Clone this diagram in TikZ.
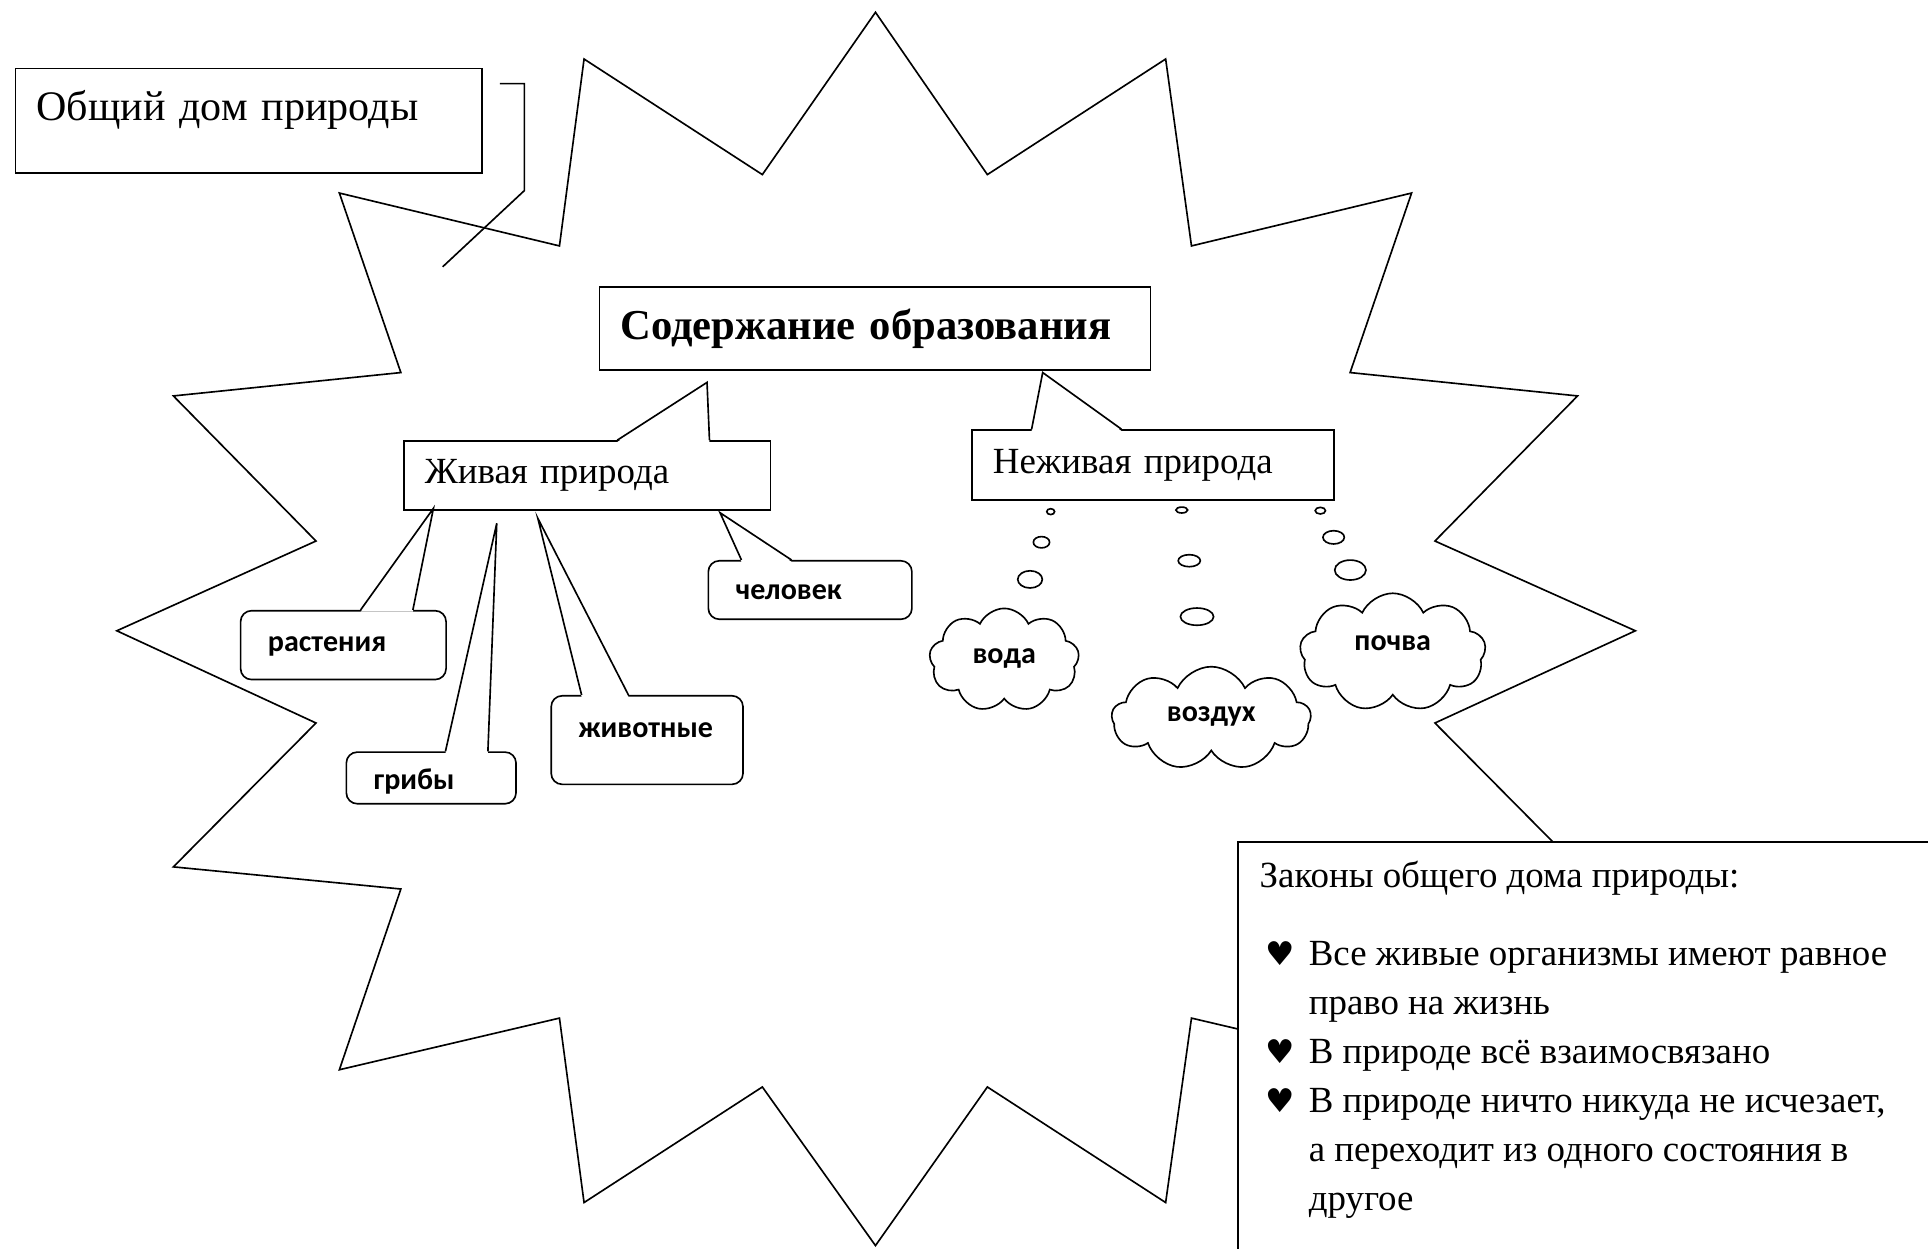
\documentclass[tikz,border=0pt]{standalone}
\usepackage{fontspec}
\setmainfont{Liberation Serif}
\newfontfamily\calib{Carlito}
\newfontfamily\dejavu{DejaVu Sans}
\usetikzlibrary{shapes.symbols,calc}

\newcommand{\lawheart}{\makebox[18pt][l]{\hspace{2pt}{\dejavu\fontsize{12}{18}\selectfont ♥}}}
% tail of a callout: node, left and right offset on its top edge, tip
\newcommand{\calltail}[4]{%
  \fill[white] ([shift={(#2,1.5)}]#1.north west) -- (#4) -- ([shift={(#3,1.5)}]#1.north west) -- cycle;
  \draw[tail] ([shift={(#2,0)}]#1.north west) -- (#4) -- ([shift={(#3,0)}]#1.north west);
}

\tikzset{
  outline/.style={line width=0.6pt},
  box/.style={draw, outline, fill=white, anchor=north west, align=left, inner xsep=7.6pt, inner ysep=0pt},
  tag/.style={draw, outline, fill=white, rounded corners=4pt, anchor=north west, align=left,
    inner xsep=10pt, inner ysep=0pt, font=\calib\bfseries\fontsize{11}{13}\selectfont,
    text height=7pt, text depth=2pt},
  thought/.style={cloud, cloud puffs=9, cloud puff arc=130, cloud ignores aspect, draw, outline, fill=white,
    inner sep=0pt, font=\calib\bfseries\fontsize{11}{13}\selectfont},
  tail/.style={outline},
}

\begin{document}
\begin{tikzpicture}[x=0.45pt, y=-0.45pt]
    \clip (0,0) rectangle (1568,1015);

    % Draw star
    \draw[outline] (712,10) -- (803,142) -- (948,48) -- (969,200) -- (1148,157) -- (1098,303)
        -- (1283,322) -- (1167,440) -- (1330,513) -- (1167,588) -- (1283,705) -- (1098,723)
        -- (1148,870) -- (969,828) -- (948,978) -- (803,884) -- (712,1013) -- (620,884)
        -- (475,978) -- (455,828) -- (276,870) -- (326,723) -- (141,705) -- (257,588)
        -- (95,513) -- (257,440) -- (141,322) -- (326,303) -- (276,157) -- (455,200)
        -- (475,48) -- (620,142) -- cycle;

    % Boxes
    \node[box, text width=155.4pt, minimum height=38.3pt, text height=11pt, text depth=11pt,
        font=\fontsize{15.4}{19}\selectfont] (common) at (12,55) {Общий дом природы};
    \node[box, text width=186.4pt, minimum height=30.15pt,
        font=\bfseries\fontsize{15.6}{19}\selectfont] (content) at (487,233) {Содержание образования};
    \node[box, text width=118.9pt, minimum height=25.2pt,
        font=\fontsize{13.5}{16}\selectfont] (alive) at (328,358) {Живая природа};
    \node[box, text width=117.1pt, minimum height=25.65pt,
        font=\fontsize{13.5}{16}\selectfont] (lifeless) at (790,349) {Неживая природа};

    % Callout tails
    \coordinate (commontip) at (360,217);
    \draw[tail] ([shift={(14,13)}]common.north east) -- ++(20,0) -- ++(0,87) -- (commontip);
    \coordinate (alivetip) at (575,311);
    \calltail{alive}{174}{249}{alivetip}
    \coordinate (lifelesstip) at (848,303);
    \calltail{lifeless}{49}{122}{lifelesstip}

    % Living nature
    \node[tag, text width=55.2pt, minimum height=25.2pt] (plants) at (195,496) {растения};
    \node[tag, text width=42.1pt, minimum height=18.9pt, text height=10.6pt] (fungi) at (281,611) {грибы};
    \node[tag, text width=50.2pt, minimum height=32.4pt, text depth=8.8pt] (animals) at (447.6,565.2) {животные};
    \node[tag, text width=54.5pt, minimum height=21.4pt, text height=9pt] (human) at (575.4,455.4) {человек};
    \coordinate (plantstip) at (352.5,413.4);
    \calltail{plants}{98.3}{140.8}{plantstip}
    \coordinate (fungitip) at (404,425.6);
    \calltail{fungi}{81.3}{115.8}{fungitip}
    \coordinate (animalstip) at (437.4,421.5);
    \calltail{animals}{25.4}{63.5}{animalstip}
    \coordinate (humantip) at (585.6,417);
    \calltail{human}{27.6}{68.3}{humantip}

    % Lifeless nature
    \foreach \bx/\by/\rx/\ry in {854.5/416.1/3.2/2.4, 847/441/6.6/4.6, 837.7/471.2/10/7,
        961.1/414.8/4.8/2.4, 967.2/456/9/4.9, 973.5/501.5/13.5/7,
        1073.8/415.3/4.2/2.7, 1084.6/437/8.7/5.4, 1098.2/463.6/12.7/8.1}
        \draw[outline] (\bx,\by) ellipse [x radius=\rx, y radius=\ry];
    \node[thought, minimum width=54.9pt, minimum height=37.8pt, text depth=3pt] (water) at (816.7,536.8) {вода};
    \node[thought, minimum width=72.9pt, minimum height=37.8pt, text depth=3pt] (air) at (985.1,584.2) {воздух};
    \node[thought, minimum width=68.1pt, minimum height=43.3pt, text depth=7pt] (soil) at (1132.7,530.6) {почва};

    % Laws
    \node[draw, outline, fill=white, anchor=north west, minimum width=300pt, minimum height=200pt]
        (lawbox) at (1006,684) {};
    \node[anchor=north west, align=left, inner sep=0pt, font=\fontsize{13.5}{18}\selectfont]
        (lawtext) at (1024,700) {Законы общего дома природы:\\[10.3pt]
        \lawheart Все живые организмы имеют равное\\
        \hspace*{18pt}право на жизнь\\
        \lawheart В природе всё взаимосвязано\\
        \lawheart В природе ничто никуда не исчезает,\\
        \hspace*{18pt}а переходит из одного состояния в\\
        \hspace*{18pt}другое};
\end{tikzpicture}
\end{document}
